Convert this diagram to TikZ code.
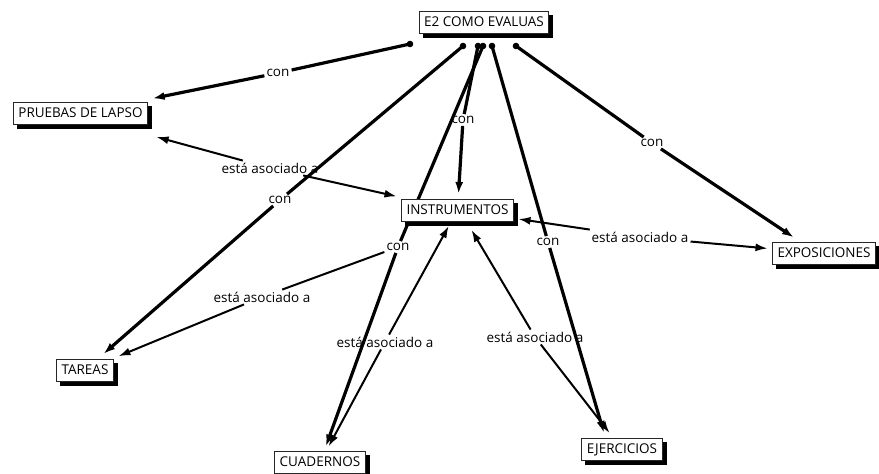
\documentclass[tikz,border=0pt]{standalone}
\usepackage{fontspec}
\setmainfont{Open Sans}
\usetikzlibrary{arrows.meta,backgrounds}

\begin{document}
\begin{tikzpicture}[x=1pt,y=-1pt,cap=round]

    % page size of the map
    \useasboundingbox (0,0) rectangle (879,474);

    % Styles
    \tikzstyle{concept}=[draw=black!85, line width=0.8pt, fill=white,
        font=\fontsize{13.5}{16}\selectfont, text height=10pt, text depth=2pt,
        inner xsep=5pt, inner ysep=5pt, outer sep=5pt,
        preaction={fill=black, draw=black, transform canvas={xshift=4pt, yshift=-4pt}}]
    \tikzstyle{linking}=[font=\fontsize{13.5}{16}\selectfont, inner sep=2pt]
    \tikzstyle{con}=[line width=3.2pt]
    \tikzstyle{asoc}=[line width=2pt, -{Latex[length=12pt,width=8pt]}]

    % concepts
    \node[concept] (e2) at (484,22.5) {E2 COMO EVALUAS};
    \node[concept] (pruebas) at (80.5,113) {PRUEBAS DE LAPSO};
    \node[concept] (instr) at (457.5,210) {INSTRUMENTOS};
    \node[concept] (expos) at (824,253.5) {EXPOSICIONES};
    \node[concept] (tareas) at (85,370) {TAREAS};
    \node[concept] (cuad) at (320,462.5) {CUADERNOS};
    \node[concept] (ejer) at (622,449) {EJERCICIOS};

    % linking phrases
    \node[linking] (conP) at (278,73) {con};
    \node[linking] (conT) at (280,200) {con};
    \node[linking] (conI) at (463,120) {con};
    \node[linking] (conC) at (398,247) {con};
    \node[linking] (conJ) at (548,242) {con};
    \node[linking] (conX) at (652,143) {con};
    \node[linking] (asoP) at (270,168) {está asociado a};
    \node[linking] (asoT) at (262,297) {está asociado a};
    \node[linking] (asoC) at (385,342) {está asociado a};
    \node[linking] (asoJ) at (535,337) {está asociado a};
    \node[linking] (asoX) at (640,237) {está asociado a};

    % dots under E2 where the links start
    \coordinate (dP) at (410,44);
    \coordinate (dT) at (463,46);
    \coordinate (dI) at (478,46);
    \coordinate (dC) at (483,46);
    \coordinate (dJ) at (492,46);
    \coordinate (dX) at (516,46);

    \begin{pgfonlayer}{background}
    % E2 -- con -- concept
    \foreach \d/\c in {dP/conP, dT/conT, dI/conI, dC/conC, dJ/conJ, dX/conX} {
        \fill (\d) circle (3.3pt);
        \draw[con] (\d) -- (\c);
    }
    \draw[con, -{Latex[length=12pt,width=8pt]}] (conP) -- (pruebas);
    \draw[con, -{Latex[length=12pt,width=8pt]}] (conT) -- (tareas);
    \draw[con, -{Latex[length=12pt,width=8pt]}] (conI) -- (instr);
    \draw[con, -{Latex[length=12pt,width=8pt]}] (conC) -- (cuad);
    \draw[con, -{Latex[length=12pt,width=8pt]}] (conJ) -- ([xshift=-18pt]ejer.north);
    \draw[con, -{Latex[length=12pt,width=8pt]}] (conX) -- ([xshift=-30pt]expos.north);

    % instrumentos -- esta asociado a -- concept
    \draw[asoc] (asoP) -- ([xshift=4pt, yshift=-8pt]pruebas.south east);
    \draw[asoc] (asoP) -- (instr);
    \draw[line width=2pt] (conC) -- (asoT);
    \draw[asoc] (asoT) -- (tareas);
    \draw[asoc] (asoC) -- (cuad);
    \draw[asoc] (asoC) -- (instr);
    \draw[asoc] (asoJ) -- (ejer);
    \draw[asoc] (asoJ) -- ([xshift=14pt, yshift=-4pt]instr.south);
    \draw[asoc] (asoX) -- (instr);
    \draw[asoc] (asoX) -- (expos);
    \end{pgfonlayer}

\end{tikzpicture}
\end{document}
